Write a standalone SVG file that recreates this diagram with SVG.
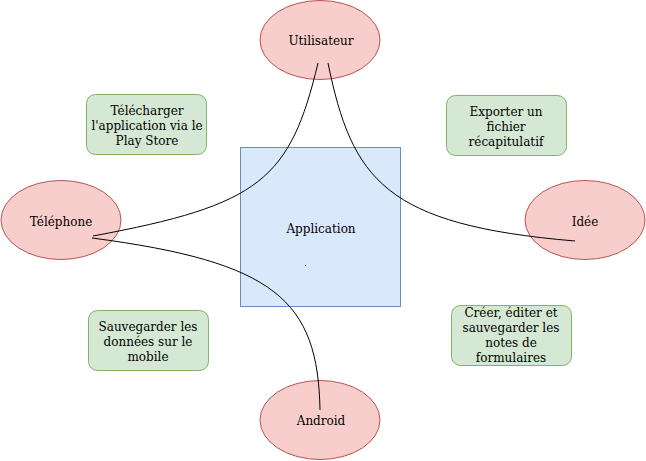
<svg xmlns="http://www.w3.org/2000/svg" width="646" height="461" viewBox="0 0 646 461">
<style>
.el{fill:#f8cecc;stroke:#b85450;stroke-width:1}
.gr{fill:#d5e8d4;stroke:#82b366;stroke-width:1}
.bl{fill:#dae8fc;stroke:#6c8ebf;stroke-width:1}
text{font-family:"DejaVu Serif","Liberation Serif",serif;font-size:12px;fill:#000;text-anchor:middle}
.cn{fill:none;stroke:#000;stroke-width:1}
</style>
<rect width="646" height="461" fill="#fff"/>
<g id="application">
<rect class="bl" x="240.5" y="147.5" width="160" height="159"/>
<text x="321" y="233">Application</text>
<rect x="305" y="265" width="1" height="1" fill="#000"/>
</g>
<g id="utilisateur"><ellipse class="el" cx="320" cy="40" rx="60" ry="39.5"/><text x="321" y="45">Utilisateur</text></g>
<g id="telephone"><ellipse class="el" cx="61" cy="220" rx="60" ry="39.5"/><text x="61" y="226">Téléphone</text></g>
<g id="idee"><ellipse class="el" cx="585" cy="220" rx="60" ry="39.5"/><text x="585" y="226">Idée</text></g>
<g id="android"><ellipse class="el" cx="320" cy="420" rx="60" ry="39.5"/><text x="321" y="425">Android</text></g>
<g id="telecharger"><rect class="gr" x="86.5" y="94.5" width="120" height="60" rx="9"/>
<text x="147" y="115">Télécharger</text><text x="147" y="130">l'application via le</text><text x="147" y="145">Play Store</text></g>
<g id="exporter"><rect class="gr" x="446.5" y="95.5" width="120" height="60" rx="9"/>
<text x="506" y="116">Exporter un</text><text x="506" y="131">fichier</text><text x="506" y="146">récapitulatif</text></g>
<g id="sauvegarder"><rect class="gr" x="88.5" y="310.5" width="120" height="60" rx="9"/>
<text x="148" y="331">Sauvegarder les</text><text x="148" y="346">données sur le</text><text x="148" y="361">mobile</text></g>
<g id="creer"><rect class="gr" x="451.5" y="305.5" width="120" height="60" rx="9"/>
<text x="511" y="317">Créer, éditer et</text><text x="511" y="332">sauvegarder les</text><text x="511" y="347">notes de</text><text x="511" y="362">formulaires</text></g>
<g id="connectors">
<path class="cn" d="M318 63 C290 180 260 205 93 236"/>
<path class="cn" d="M328 63 C352 180 385 225 575 241"/>
<path class="cn" d="M92 238 C275 262 318 300 320 410"/>
</g>
</svg>
